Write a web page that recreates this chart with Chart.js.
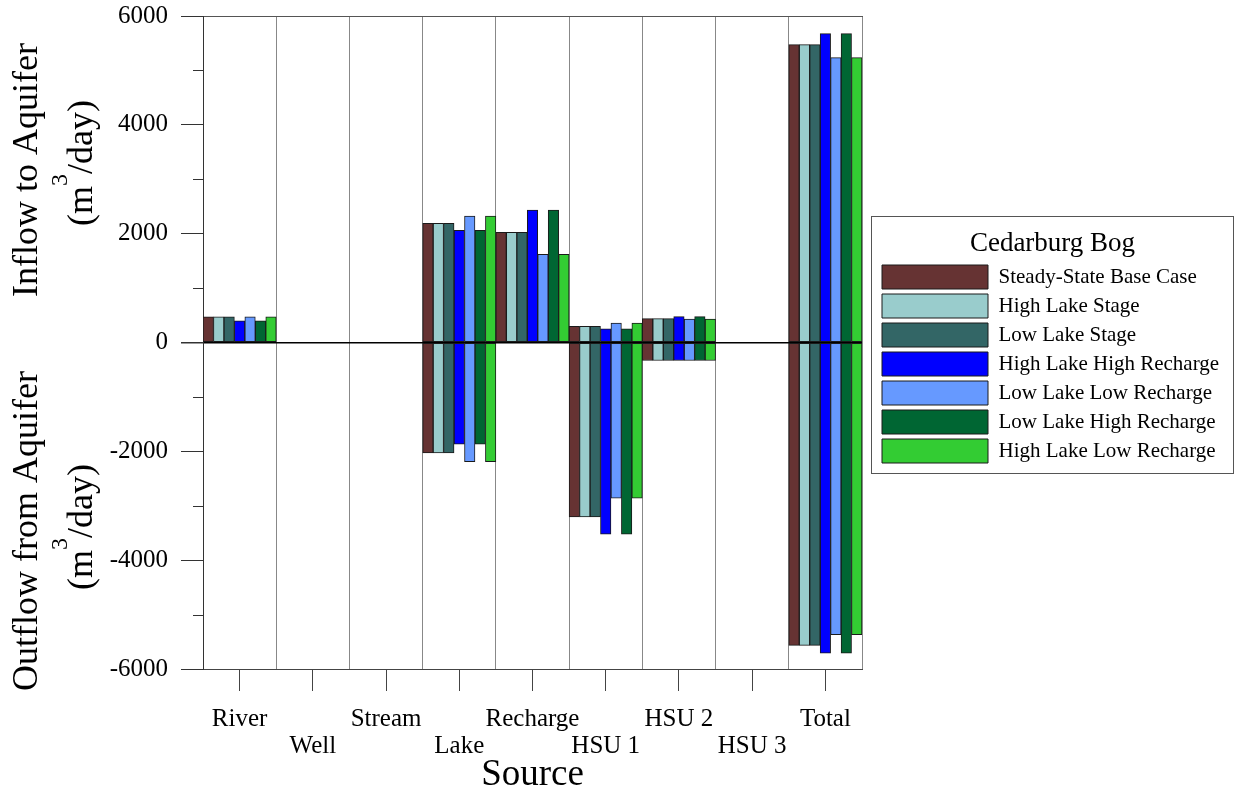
<!DOCTYPE html>
<html>
<head>
<meta charset="utf-8">
<title>Cedarburg Bog water budget</title>
<script src="https://cdn.jsdelivr.net/npm/chart.js@4.4.1/dist/chart.umd.min.js"></script>
<style>
  html, body { margin: 0; padding: 0; background: #fff; }
  #wrap { width: 1240px; height: 793px; }
</style>
</head>
<body>
<div id="wrap"><canvas id="chart"></canvas></div>
<script>
const sources = ["River", "Well", "Stream", "Lake", "Recharge", "HSU 1", "HSU 2", "HSU 3", "Total"];

const scenarios = [
  "Steady-State Base Case",
  "High Lake Stage",
  "Low Lake Stage",
  "High Lake High Recharge",
  "Low Lake Low Recharge",
  "Low Lake High Recharge",
  "High Lake Low Recharge"
];

const colors = ["#663333", "#99CCCC", "#336666", "#0000FF", "#6699FF", "#006633", "#33CC33"];

// m3/day into the aquifer, one row per scenario, in the order of sources
const inflow = [
  [470, 0, 0, 2190, 2025, 295, 440, 0, 5475],
  [470, 0, 0, 2190, 2025, 295, 440, 0, 5475],
  [470, 0, 0, 2190, 2025, 295, 440, 0, 5475],
  [400, 0, 0, 2060, 2435, 250, 475, 0, 5675],
  [470, 0, 0, 2325, 1620, 355, 430, 0, 5235],
  [400, 0, 0, 2060, 2435, 250, 475, 0, 5675],
  [470, 0, 0, 2325, 1620, 355, 430, 0, 5235]
];

// m3/day out of the aquifer
const outflow = [
  [0, 0, 0, -2030, 0, -3205, -330, 0, -5565],
  [0, 0, 0, -2030, 0, -3205, -330, 0, -5565],
  [0, 0, 0, -2030, 0, -3205, -330, 0, -5565],
  [0, 0, 0, -1870, 0, -3520, -330, 0, -5710],
  [0, 0, 0, -2190, 0, -2860, -330, 0, -5370],
  [0, 0, 0, -1870, 0, -3520, -330, 0, -5710],
  [0, 0, 0, -2190, 0, -2860, -330, 0, -5370]
];

const minorTicks = [-5000, -3000, -1000, 1000, 3000, 5000];
const legendTitle = "Cedarburg Bog";

const FONT = "'Liberation Serif', 'Times New Roman', serif";
Chart.defaults.font.family = FONT;
Chart.defaults.color = "#000";

const datasets = [];
scenarios.forEach((name, i) => {
  datasets.push({
    label: name, data: inflow[i], stack: "s" + i,
    backgroundColor: colors[i], borderColor: "#1a1a1a", borderWidth: 1, borderSkipped: false
  });
});
scenarios.forEach((name, i) => {
  datasets.push({
    label: name + " (out)", data: outflow[i], stack: "s" + i,
    backgroundColor: colors[i], borderColor: "#1a1a1a", borderWidth: 1, borderSkipped: false
  });
});

function drawVertical(ctx, x, cy, parts) {
  let total = 0;
  parts.forEach(p => {
    ctx.font = p.size + "px " + FONT;
    p.w = ctx.measureText(p.text).width;
    total += p.w;
  });
  ctx.save();
  ctx.translate(x, cy);
  ctx.rotate(-Math.PI / 2);
  ctx.textBaseline = "alphabetic";
  ctx.textAlign = "left";
  ctx.fillStyle = "#000";
  let cx = -total / 2;
  parts.forEach(p => {
    ctx.font = p.size + "px " + FONT;
    ctx.fillText(p.text, cx, -(p.raise || 0));
    cx += p.w;
  });
  ctx.restore();
}

const extras = {
  id: "extras",
  beforeDraw(chart) {
    // the legend box is capped narrow by the layout, let it draw its full text
    const lg = chart.legend;
    lg.right = chart.width;
    lg.width = lg.right - lg.left;
  },
  afterDraw(chart) {
    const { ctx, chartArea, scales } = chart;
    const y = scales.y;
    ctx.save();
    // short minor ticks on the y axis
    ctx.strokeStyle = "#333";
    ctx.lineWidth = 1;
    minorTicks.forEach(v => {
      const py = Math.round(y.getPixelForValue(v)) + 0.5;
      ctx.beginPath();
      ctx.moveTo(chartArea.left - 10, py);
      ctx.lineTo(chartArea.left, py);
      ctx.stroke();
    });

    // axis titles, split into inflow / outflow halves
    const unit = () => [
      { text: "(m", size: 36 },
      { text: "3", size: 24, raise: 25 },
      { text: "/day)", size: 36 }
    ];
    drawVertical(ctx, 37, 170, [{ text: "Inflow to Aquifer", size: 36 }]);
    drawVertical(ctx, 92, 163, unit());
    drawVertical(ctx, 37, 531, [{ text: "Outflow from Aquifer", size: 36 }]);
    drawVertical(ctx, 92, 527, unit());

    // frame and title of the legend
    const lg = chart.legend;
    const hb = lg.legendHitBoxes;
    if (hb && hb.length) {
      const left = Math.round(lg.left - 6) + 0.5;
      const right = chart.width - 6.5;
      const top = Math.round(hb[0].top - 49) + 0.5;
      const bottom = Math.round(hb[hb.length - 1].top + 24 + 10) + 0.5;
      ctx.strokeStyle = "#555";
      ctx.lineWidth = 1;
      ctx.strokeRect(left, top, right - left, bottom - top);
      ctx.fillStyle = "#000";
      ctx.font = "27px " + FONT;
      ctx.textAlign = "center";
      ctx.textBaseline = "middle";
      ctx.fillText(legendTitle, (left + right) / 2, hb[0].top - 21);
    }
    ctx.restore();
  }
};

new Chart(document.getElementById("chart"), {
  type: "bar",
  data: { labels: sources, datasets: datasets },
  options: {
    responsive: true,
    maintainAspectRatio: false,
    animation: false,
    categoryPercentage: 1,
    barPercentage: 1,
    layout: { padding: { top: 0, right: 187.6, bottom: 0, left: 0 } },
    plugins: {
      tooltip: { enabled: false },
      legend: {
        position: "right",
        fullSize: false,
        labels: {
          filter: item => item.datasetIndex < scenarios.length,
          boxWidth: 106,
          boxHeight: 24,
          padding: 5,
          font: { size: 21 },
          color: "#000"
        },
        // blank title only reserves the room; the text is drawn by the extras plugin
        title: {
          display: true,
          text: " ",
          font: { size: 27, lineHeight: 1 },
          padding: { top: 13.5, bottom: 2.5 }
        }
      }
    },
    scales: {
      x: {
        stacked: true,
        offset: true,
        grid: { offset: false, drawOnChartArea: false, tickLength: 22, tickColor: "#444" },
        border: { display: true, color: "#444" },
        ticks: {
          padding: 15,
          maxRotation: 0,
          autoSkip: false,
          font: { size: 25, lineHeight: 1.08 },
          callback: function (v, i) {
            const s = this.getLabelForValue(v);
            return i % 2 ? ["", s] : s;
          }
        },
        title: { display: true, text: "Source", font: { size: 37, lineHeight: 0.95 }, padding: 0 },
        afterFit: s => { s.height = 124; }
      },
      x2: {
        type: "category",
        position: "top",
        offset: true,
        grid: { offset: true, drawTicks: false, color: "#888", lineWidth: 1 },
        border: { display: true, color: "#555" },
        ticks: { display: false }
      },
      y: {
        stacked: true,
        min: -6000,
        max: 6000,
        ticks: {
          stepSize: 1000,
          padding: 13,
          font: { size: 25, lineHeight: 0.24 },
          callback: v => (v % 2000 === 0 ? String(v) : "")
        },
        grid: {
          tickLength: 22,
          color: c => (c.tick && c.tick.value === 0 ? "#000" : "rgba(0,0,0,0)"),
          lineWidth: c => (c.tick && c.tick.value === 0 ? 1.5 : 1),
          tickColor: c => (c.tick && c.tick.value % 2000 === 0 ? "#333" : "rgba(0,0,0,0)")
        },
        border: { display: true, color: "#333" },
        afterFit: s => { s.width = 203; }
      },
      y2: {
        position: "right",
        display: true,
        grid: { display: false },
        border: { display: false },
        ticks: { display: false },
        afterFit: s => { s.width = 15; }
      }
    }
  },
  plugins: [extras]
});
</script>
</body>
</html>
